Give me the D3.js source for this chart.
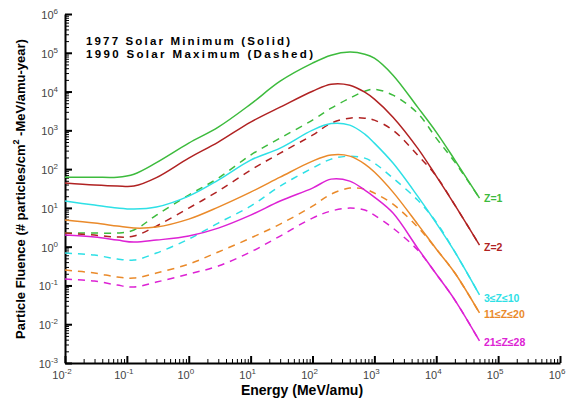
<!DOCTYPE html>
<html><head><meta charset="utf-8">
<script src="https://cdn.jsdelivr.net/npm/d3@7"></script>
<style>body{margin:0;background:#fff;}svg{display:block;}</style>
</head><body>
<svg id="c" width="573" height="399"></svg>
<script>
// ---- data ----
const energy = [0.01, 0.03, 0.07, 0.13, 0.3, 1, 3, 10, 30, 100, 200, 400, 700, 1000, 2000, 5000, 1e4, 2e4, 5e4];
const minZ1  = [62, 62, 62, 74, 147, 468, 1210, 4730, 18500, 54000, 86700, 104000, 92000, 72600, 26500, 3960, 900, 171, 17.9];
const minZ2  = [43.6, 38.7, 36.5, 36.5, 60.4, 192, 497, 1630, 3960, 10200, 15500, 14600, 9660, 6370, 2190, 348, 66, 11.8, 1.1];
const minZ3  = [15.0, 11.8, 9.9, 9.3, 10.5, 20.1, 52, 171, 348, 1010, 1490, 1360, 798, 468, 143, 20.1, 4.06, 0.73, 0.057];
const minZ11 = [4.85, 4.06, 3.40, 3.01, 3.20, 5.14, 10.5, 25.5, 62, 161, 230, 216, 135, 84, 25.5, 3.82, 0.87, 0.209, 0.0195];
const minZ21 = [1.99, 1.77, 1.48, 1.31, 1.48, 1.88, 3.01, 6.5, 15.0, 32.4, 55.2, 49.1, 28.8, 19.0, 7.35, 0.92, 0.197, 0.042, 0.0037];
const maxZ1  = [2.24, 2.24, 2.24, 2.68, 6.5, 21.4, 58.6, 230, 630, 1830, 3730, 6760, 10200, 11500, 8070, 2770, 630, 151, 17.9];
const maxZ2  = [2.24, 1.99, 1.77, 1.88, 3.40, 9.9, 27.1, 94, 258, 752, 1530, 2060, 2060, 1830, 1010, 230, 66, 11.8, 1.1];
const maxZ3  = [0.684, 0.608, 0.479, 0.452, 0.684, 1.57, 4.06, 11.1, 36.5, 106, 181, 216, 192, 143, 58.6, 15.9, 4.3, 0.73, 0.057];
const maxZ11 = [0.249, 0.209, 0.164, 0.155, 0.209, 0.356, 0.73, 1.67, 3.82, 11.1, 22.7, 32.4, 30.5, 24.1, 12.5, 3.20, 0.87, 0.209, 0.0195];
const maxZ21 = [0.146, 0.130, 0.102, 0.091, 0.122, 0.197, 0.316, 0.73, 1.88, 5.46, 8.3, 9.9, 8.8, 6.5, 3.01, 0.82, 0.197, 0.042, 0.0037];
const groupLabels = ["Z=1", "Z=2", "3\u2264Z\u226410", "11\u2264Z\u226420", "21\u2264Z\u226428"];
const legendLines = ["1977 Solar Minimum (Solid)", "1990 Solar Maximum (Dashed)"];
const xTickExps = [-2, -1, 0, 1, 2, 3, 4, 5, 6];
const yTickExps = [-3, -2, -1, 0, 1, 2, 3, 4, 5, 6];
const xTitle = "Energy (MeV/amu)";

// ---- styles ----
const colors = ["#3dbb3d", "#b02222", "#2ee0e6", "#ea8a2a", "#dd22d4"];
const minSeries = [minZ1, minZ2, minZ3, minZ11, minZ21];
const maxSeries = [maxZ1, maxZ2, maxZ3, maxZ11, maxZ21];

const svg = d3.select("#c");
const x = d3.scaleLog().domain([1e-2, 1e6]).range([65, 560]);
const y = d3.scaleLog().domain([1e-3, 1e6]).range([363, 14]);

// minor ticks
const minorX = [], minorY = [];
for (let e = -2; e < 6; e++) for (let k = 2; k <= 9; k++) minorX.push(k * Math.pow(10, e));
for (let e = -3; e < 6; e++) for (let k = 2; k <= 9; k++) minorY.push(k * Math.pow(10, e));

const gx = svg.append("g").attr("transform", "translate(0,363)");
gx.call(d3.axisBottom(x).tickValues(minorX).tickSize(-4).tickFormat(""));
gx.call(g => g.select(".domain").remove());
const gx2 = svg.append("g").attr("transform", "translate(0,363)");
gx2.call(d3.axisBottom(x).tickValues(xTickExps.map(e => Math.pow(10, e))).tickSize(-7).tickSizeOuter(0).tickFormat(""));
gx2.selectAll(".tick line").attr("stroke-width", 2);
gx2.select(".domain").attr("stroke-width", 2);

const gy = svg.append("g").attr("transform", "translate(65,0)");
gy.call(d3.axisLeft(y).tickValues(minorY).tickSize(-4).tickFormat(""));
gy.call(g => g.select(".domain").remove());
const gy2 = svg.append("g").attr("transform", "translate(65,0)");
gy2.call(d3.axisLeft(y).tickValues(yTickExps.map(e => Math.pow(10, e))).tickSize(-7).tickSizeOuter(0).tickFormat(""));
gy2.selectAll(".tick line").attr("stroke-width", 2);
gy2.select(".domain").attr("stroke-width", 2);

// tick labels with superscripts
const lblFont = "Liberation Sans, Arial, sans-serif";
xTickExps.forEach(e => {
  const t = svg.append("text").attr("x", x(Math.pow(10, e)) - 3).attr("y", 379)
    .attr("text-anchor", "middle").attr("font-family", lblFont).attr("font-size", 11).attr("fill", "#444");
  t.append("tspan").text("10");
  t.append("tspan").attr("dy", -5).attr("font-size", 8).text(e);
});
yTickExps.forEach(e => {
  const t = svg.append("text").attr("x", 58).attr("y", y(Math.pow(10, e)) + 5)
    .attr("text-anchor", "end").attr("font-family", lblFont).attr("font-size", 11).attr("fill", "#444");
  t.append("tspan").text("10");
  t.append("tspan").attr("dy", -5).attr("font-size", 8).text(e);
});

// axis titles
svg.append("text").attr("x", 302).attr("y", 395).attr("text-anchor", "middle")
  .attr("font-family", lblFont).attr("font-weight", "bold").attr("font-size", 14).text(xTitle);
const yt = svg.append("text").attr("transform", "translate(25,189) rotate(-90)").attr("text-anchor", "middle")
  .attr("font-family", lblFont).attr("font-weight", "bold").attr("font-size", 13);
yt.append("tspan").text("Particle Fluence (# particles/cm");
yt.append("tspan").attr("dy", -6).attr("font-size", 9).text("2");
yt.append("tspan").attr("dy", 6).text(" -MeV/amu-year)");

// curves
const line = d3.line().x((d, i) => x(energy[i])).y(d => y(d)).curve(d3.curveCatmullRom.alpha(0.5));
maxSeries.forEach((s, i) => {
  svg.append("path").attr("d", line(s)).attr("fill", "none").attr("stroke", colors[i])
    .attr("stroke-width", 1.5).attr("stroke-dasharray", "7,6");
});
minSeries.forEach((s, i) => {
  svg.append("path").attr("d", line(s)).attr("fill", "none").attr("stroke", colors[i])
    .attr("stroke-width", 1.5);
});

// end labels
const labelOffsets = [198, 247, 298, 314, 342];
groupLabels.forEach((l, i) => {
  svg.append("text").attr("x", 484).attr("y", labelOffsets[i] + 4)
    .attr("font-family", lblFont).attr("font-weight", "bold").attr("font-size", 10.5)
    .attr("fill", colors[i]).text(l);
});

// legend
const legendWidths = [204, 227];
legendLines.forEach((l, i) => {
  svg.append("text").attr("x", 86).attr("y", 45 + i * 12.5)
    .attr("font-family", lblFont).attr("font-weight", "bold").attr("font-size", 11.5)
    .attr("textLength", legendWidths[i]).attr("lengthAdjust", "spacing")
    .attr("fill", "#000").text(l);
});
</script>
</body></html>
